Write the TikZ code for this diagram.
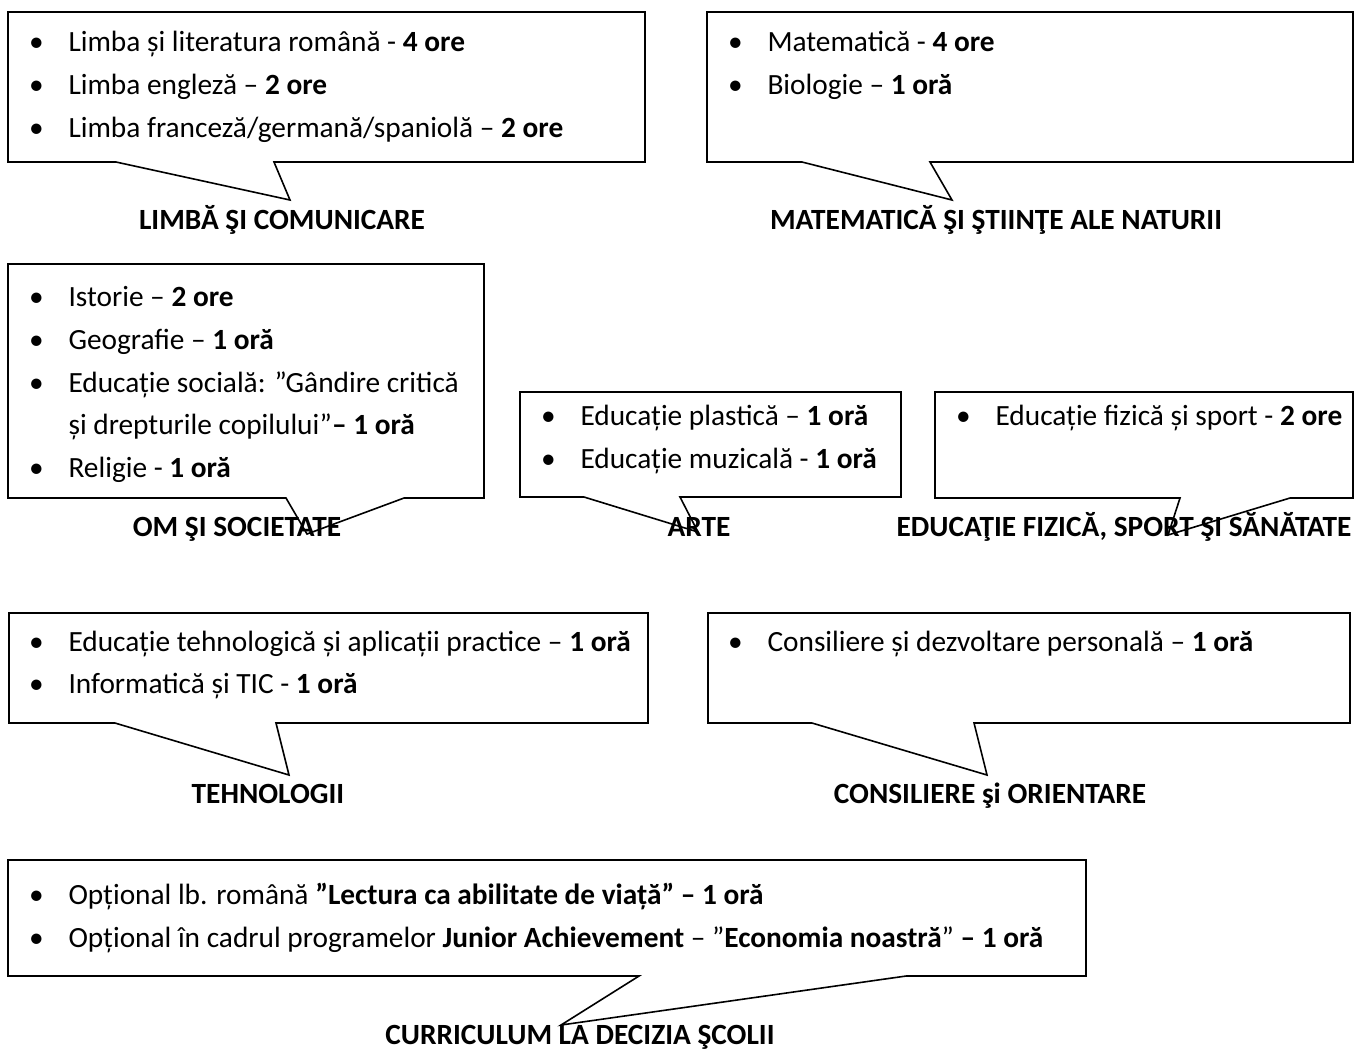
\documentclass[tikz,border=0pt]{standalone}
\usepackage{fontspec}
\setmainfont{Carlito}
\usepackage{tikz}

\newcommand{\blt}{\llap{\makebox[24pt]{•}}}

\begin{document}
\begin{tikzpicture}[x=0.375pt, y=-0.375pt,
    bubble/.style={draw, line width=0.6pt, line join=miter},
    item/.style={anchor=base west, inner sep=0pt, font=\fontsize{11pt}{13pt}\selectfont},
    area/.style={anchor=base, inner sep=0pt, font=\fontsize{11pt}{13pt}\selectfont\bfseries}]
\useasboundingbox (0,0) rectangle (1354,1052);

% limba si comunicare
\draw[bubble] (8,12) -- (645,12) -- (645,162) -- (274,162) -- (290,200) -- (116,162) -- (8,162) -- cycle;
\node[item] (lc1) at (68,51) {\blt Limba și literatura română - \textbf{4 ore}};
\node[item] (lc2) at (68,94) {\blt Limba engleză – \textbf{2 ore}};
\node[item] (lc3) at (68,137) {\blt Limba franceză/germană/spaniolă – \textbf{2 ore}};
\node[area] (lc) at (282,229) {LIMBĂ ŞI COMUNICARE};

% matematica
\draw[bubble] (707,12) -- (1353,12) -- (1353,162) -- (930,162) -- (952,200) -- (802,162) -- (707,162) -- cycle;
\node[item] (ms1) at (767,51) {\blt Matematică - \textbf{4 ore}};
\node[item] (ms2) at (767,94) {\blt Biologie – \textbf{1 oră}};
\node[area] (ms) at (996,229) {MATEMATICĂ ŞI ŞTIINŢE ALE NATURII};

% om si societate
\draw[bubble] (8,264) -- (484,264) -- (484,498) -- (404,498) -- (307,534) -- (286,498) -- (8,498) -- cycle;
\node[item] (os1) at (68,306) {\blt Istorie – \textbf{2 ore}};
\node[item] (os2) at (68,349) {\blt Geografie – \textbf{1 oră}};
\node[item] (os3) at (68,392) {\blt Educație socială: ”Gândire critică};
\node[item] (os4) at (68,434) {și drepturile copilului”\textbf{– 1 oră}};
\node[item] (os5) at (68,477) {\blt Religie - \textbf{1 oră}};
\node[area] (os) at (237,536) {OM ŞI SOCIETATE};

% arte
\draw[bubble] (520,392) -- (901,392) -- (901,497) -- (680,497) -- (698,532) -- (584,497) -- (520,497) -- cycle;
\node[item] (ar1) at (580,425) {\blt Educație plastică – \textbf{1 oră}};
\node[item] (ar2) at (580,468) {\blt Educație muzicală - \textbf{1 oră}};
\node[area] (ar) at (699,536) {ARTE};

% educatie fizica
\draw[bubble] (935,392) -- (1353,392) -- (1353,498) -- (1290,498) -- (1168,535) -- (1180,498) -- (935,498) -- cycle;
\node[item] (ef1) at (995,425) {\blt Educație fizică și sport - \textbf{2 ore}};
\node[area, anchor=base east] (ef) at (1352,536) {EDUCAŢIE FIZICĂ, SPORT ŞI SĂNĂTATE};

% tehnologii
\draw[bubble] (9,613) -- (648,613) -- (648,723) -- (276,723) -- (289,775) -- (115,723) -- (9,723) -- cycle;
\node[item] (te1) at (68,651) {\blt Educație tehnologică și aplicații practice – \textbf{1 oră}};
\node[item] (te2) at (68,693) {\blt Informatică și TIC - \textbf{1 oră}};
\node[area] (te) at (268,803) {TEHNOLOGII};

% consiliere
\draw[bubble] (708,613) -- (1350,613) -- (1350,723) -- (974,723) -- (987,775) -- (812,723) -- (708,723) -- cycle;
\node[item] (co1) at (767,651) {\blt Consiliere și dezvoltare personală – \textbf{1 oră}};
\node[area] (co) at (990,803) {CONSILIERE şi ORIENTARE};

% curriculum la decizia scolii
\draw[bubble] (8,860) -- (1086,860) -- (1086,976) -- (906,976) -- (561,1025) -- (639,976) -- (8,976) -- cycle;
\node[item] (cd1) at (68,904) {\blt Opțional lb. română \textbf{”Lectura ca abilitate de viață” – 1 oră}};
\node[item] (cd2) at (68,947) {\blt Opțional în cadrul programelor \textbf{Junior Achievement} – ”\textbf{Economia noastră}” \textbf{– 1 oră}};
\node[area] (cd) at (580,1044) {CURRICULUM LA DECIZIA ŞCOLII};
\end{tikzpicture}
\end{document}
